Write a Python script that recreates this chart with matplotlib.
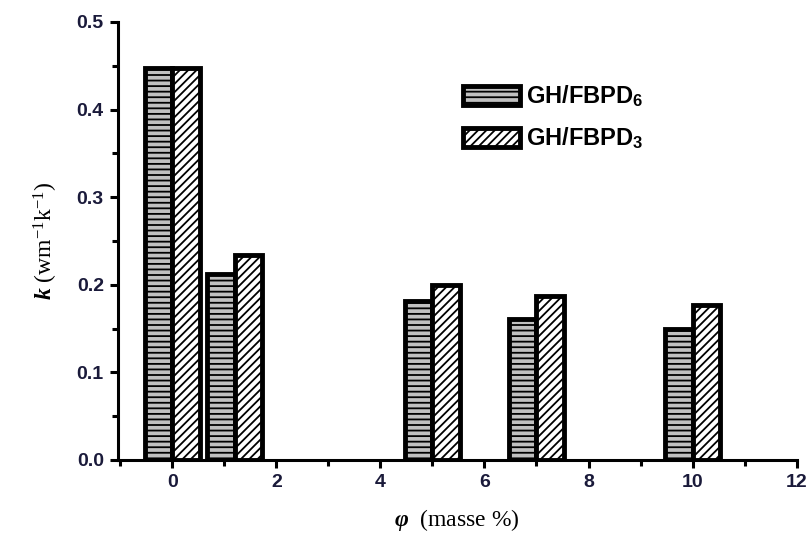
import matplotlib
matplotlib.use('Agg')
import matplotlib.pyplot as plt
import numpy as np
from matplotlib.ticker import MultipleLocator, FuncFormatter

# thermal conductivity vs mass fraction
phi = [0, 1.2, 5, 7, 10]
k_fbpd6 = [0.448, 0.212, 0.181, 0.161, 0.150]
k_fbpd3 = [0.448, 0.234, 0.200, 0.187, 0.177]
series_names = [r'GH/FBPD$_\mathbf{6}$', r'GH/FBPD$_\mathbf{3}$']

plt.rcParams['hatch.linewidth'] = 1.3
plt.rcParams['mathtext.fontset'] = 'custom'
plt.rcParams['mathtext.rm'] = 'Liberation Serif'
plt.rcParams['mathtext.it'] = 'Liberation Serif:italic:bold'
plt.rcParams['mathtext.bf'] = 'Liberation Sans:bold'

fig = plt.figure(figsize=(8.12, 5.36), dpi=100)
ax = fig.add_axes([0.145, 0.142, 0.836, 0.817])

w = 0.53
x = np.array(phi)
ax.bar(x - w / 2, k_fbpd6, width=w, facecolor='#c0c0c0', edgecolor='black',
       linewidth=3.5, hatch='---', label=series_names[0])
ax.bar(x + w / 2, k_fbpd3, width=w, facecolor='white', edgecolor='black',
       linewidth=3.5, hatch='////', label=series_names[1])

ax.set_xlim(-1.05, 12)
ax.set_ylim(0, 0.5)
ax.xaxis.set_major_locator(MultipleLocator(2))
ax.xaxis.set_minor_locator(MultipleLocator(1))
ax.yaxis.set_major_locator(MultipleLocator(0.1))
ax.yaxis.set_minor_locator(MultipleLocator(0.05))
ax.xaxis.set_major_formatter(FuncFormatter(lambda v, p: f'{v:.0f}'))
ax.yaxis.set_major_formatter(FuncFormatter(lambda v, p: f'{v:.1f}'))

for s in ['top', 'right']:
    ax.spines[s].set_visible(False)
for s in ['left', 'bottom']:
    ax.spines[s].set_linewidth(2.2)

ax.tick_params(which='major', direction='out', length=6, width=2.2, pad=4)
ax.tick_params(which='minor', direction='out', length=4, width=2.2)
for lab in ax.get_xticklabels() + ax.get_yticklabels():
    lab.set_fontfamily('Liberation Sans')
    lab.set_fontweight('bold')
    lab.set_fontsize(14)
    lab.set_color('#1a1a3a')

ax.set_xlabel(r'$\mathit{\varphi}$  (masse %)', fontfamily='Liberation Serif',
              fontsize=17, labelpad=12)
ax.set_ylabel(r'$k$ (wm$^{-1}$k$^{-1}$)', fontfamily='Liberation Serif',
              fontsize=17, labelpad=12)

leg = ax.legend(loc='upper left', bbox_to_anchor=(463 / 812, 1 - 84 / 536),
                bbox_transform=fig.transFigure, frameon=False,
                borderpad=0, borderaxespad=0, handletextpad=0.25,
                handlelength=2.4, handleheight=0.85, labelspacing=0.7,
                prop={'family': 'Liberation Sans', 'weight': 'bold', 'size': 17})

fig.savefig('out.png', dpi=100)
